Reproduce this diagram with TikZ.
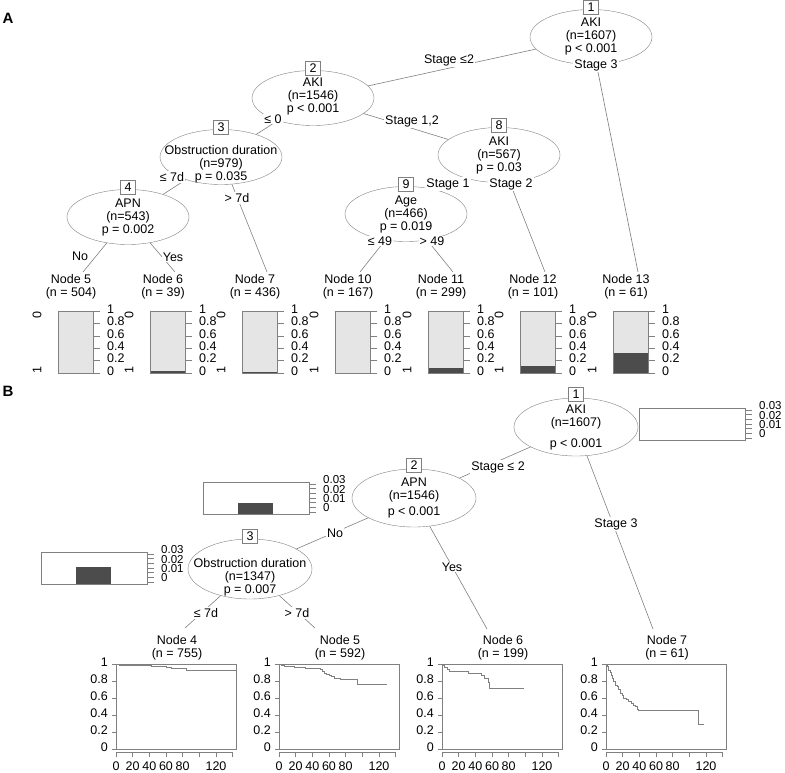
\documentclass[tikz,border=0pt]{standalone}
\usepackage{fontspec}
\setmainfont{Liberation Sans}
\usetikzlibrary{shapes.geometric}
\definecolor{linegray}{gray}{0.5}
\definecolor{barlight}{gray}{0.9}
\definecolor{bardark}{gray}{0.3}

\begin{document}
\begin{tikzpicture}[x=1pt,y=-1pt,font=\fontsize{12.5}{13}\selectfont,
	splitnode/.style={ellipse,draw=linegray,fill=white,minimum width=122pt,minimum height=55pt,inner sep=0pt},
	idbox/.style={draw=linegray,fill=white,minimum width=15pt,minimum height=14pt,inner sep=0pt},
	conn/.style={draw=linegray,line width=0.6pt},
	elab/.style={fill=white,inner sep=1pt},
	tk/.style={draw=linegray,line width=0.6pt},
	num/.style={inner sep=0pt},
	tag/.style={font=\fontsize{15}{15}\selectfont\bfseries}]
		\useasboundingbox (0,0) rectangle (785,772);

		% A: classification tree
		\node[tag] (tagA) at (8,18) {A};
		\node[splitnode] (a1) at (591,37) {};
		\node[splitnode] (a2) at (313,98) {};
		\node[splitnode] (a3) at (221,157) {};
		\node[splitnode] (a4) at (128,217) {};
		\node[splitnode] (a8) at (499,155) {};
		\node[splitnode] (a9) at (406,214) {};
		\node[idbox] (a1id) at ([yshift=2pt]a1.north) {1};
		\node[idbox] (a2id) at ([yshift=2pt]a2.north) {2};
		\node[idbox] (a3id) at ([yshift=2pt]a3.north) {3};
		\node[idbox] (a4id) at ([yshift=2pt]a4.north) {4};
		\node[idbox] (a8id) at ([yshift=2pt]a8.north) {8};
		\node[idbox] (a9id) at ([yshift=2pt]a9.north) {9};
		\node[align=center] (a1txt) at (591,36) {AKI\\(n=1607)\\p < 0.001};
		\node[align=center] (a2txt) at (313,96) {AKI\\(n=1546)\\p < 0.001};
		\node[align=center] (a3txt) at (221,164) {Obstruction duration\\(n=979)\\p = 0.035};
		\node[align=center] (a4txt) at (128,217) {APN\\(n=543)\\p = 0.002};
		\node[align=center] (a8txt) at (499,155) {AKI\\(n=567)\\p = 0.03};
		\node[align=center] (a9txt) at (406,214) {Age\\(n=466)\\p = 0.019};

		\foreach \bx/\dk/\n/\m in {58/0/5/504,150/0.03/6/39,242/0.02/7/436,335/0/10/167,428/0.075/11/299,520/0.12/12/101,613/0.33/13/61}{
			\node[align=center] (leaf\n) at (\bx+13,286.5) {Node \n\\(n = \m)};
			\coordinate (e\n) at (\bx+25,272);
			\fill[barlight] (\bx,311) rectangle (\bx+35,373);
			\fill[bardark] (\bx,{373-62*\dk}) rectangle (\bx+35,373);
			\draw[linegray] (\bx,311) rectangle (\bx+35,373);
			\foreach \val/\lab in {0/0,0.2/0.2,0.4/0.4,0.6/0.6,0.8/0.8,1/1}{
				\draw[tk] (\bx+35,{373-62*\val}) -- ++(7,0);
				\node[num,anchor=west] (ya\n-\lab) at (\bx+49,{371-62*\val}) {\lab};
			}
			\node[num,rotate=90] (cz\n) at (\bx-21,315) {0};
			\node[num,rotate=90] (co\n) at (\bx-21,370) {1};
		}

		\draw[conn] (a1) -- (a2);
		\draw[conn] (a1) -- (e13);
		\draw[conn] (a2) -- (a3);
		\draw[conn] (a2) -- (a8);
		\draw[conn] (a3) -- (a4);
		\draw[conn] (a3) -- (e7);
		\draw[conn] (a4) -- (e5);
		\draw[conn] (a4) -- (e6);
		\draw[conn] (a8) -- (a9);
		\draw[conn] (a8) -- (e12);
		\draw[conn] (a9) -- (e10);
		\draw[conn] (a9) -- (e11);

		\node[elab] (la12) at (449,60) {Stage ≤2};
		\node[elab] (la113) at (596,65) {Stage 3};
		\node[elab] (la23) at (273,119) {≤ 0};
		\node[elab] (la28) at (412,121) {Stage 1,2};
		\node[elab] (la34) at (172,177) {≤ 7d};
		\node[elab] (la37) at (237,198) {> 7d};
		\node[elab] (la45) at (80,256) {No};
		\node[elab] (la46) at (173,257) {Yes};
		\node[elab] (la89) at (448,184) {Stage 1};
		\node[elab] (la812) at (511,184) {Stage 2};
		\node[elab] (la910) at (380,241) {≤ 49};
		\node[elab] (la911) at (432,241) {> 49};

		% B: survival tree
		\node[tag] (tagB) at (8,391) {B};
		\node[splitnode,minimum width=124pt,minimum height=58pt] (b1) at (576,427) {};
		\node[splitnode,minimum width=124pt,minimum height=58pt] (b2) at (414,498) {};
		\node[splitnode,minimum width=124pt,minimum height=60pt] (b3) at (250,569) {};
		\node[idbox] (b1id) at ([yshift=4pt]b1.north) {1};
		\node[idbox] (b2id) at ([yshift=4pt]b2.north) {2};
		\node[idbox] (b3id) at ([yshift=3pt]b3.north) {3};
		\node[align=center] (b1txt) at (576,427) {AKI\\(n=1607)\\[8pt]p < 0.001};
		\node[align=center] (b2txt) at (414,498) {APN\\(n=1546)\\[3pt]p < 0.001};
		\node[align=center] (b3txt) at (250,577) {Obstruction duration\\(n=1347)\\p = 0.007};

		\foreach \bx/\by/\bh/\n in {639/408/0/1,203/482/11/2,41/552/17/3}{
			\fill[bardark] (\bx+35,\by+32-\bh) rectangle (\bx+70,\by+32);
			\draw[linegray] (\bx,\by) rectangle (\bx+106,\by+32);
			\foreach \kk in {0,...,6}
				\draw[tk] (\bx+106,{\by+30-\kk*28/6}) -- ++(7,0);
			\foreach \kk/\lab in {0/0,2/0.01,4/0.02,6/0.03}
				\node[num,anchor=west,font=\fontsize{11.5}{12}\selectfont] (yb\n-\kk) at (\bx+120,{\by+26-\kk*28/6}) {\lab};
		}

		\foreach \px/\n/\m in {116/4/755,279/5/592,442/6/199,606/7/61}{
			\node[align=center] (kleaf\n) at (\px+61,647.5) {Node \n\\(n = \m)};
			\draw[linegray] (\px,664) rectangle (\px+120,749);
			\foreach \val/\lab in {0/0,0.2/0.2,0.4/0.4,0.6/0.6,0.8/0.8,1/1}{
				\draw[tk] (\px,{749-85*\val}) -- ++(-4,0);
				\node[num,anchor=east] (yk\n-\lab) at (\px-8,{747-85*\val}) {\lab};
			}
			\draw[tk] (\px,752) -- ++(116.7,0);
			\foreach \lab in {0,20,...,140}
				\draw[tk] ({\px+0.8333*\lab},752) -- ++(0,5);
			\foreach \lab in {0,20,40,60,80,120}
				\node[num] (xk\n-\lab) at ({\px+0.8333*\lab},766) {\lab};
		}

		\begin{scope}[shift={(116,749)},x=0.8333pt,y=85pt]
			\draw[conn] (0,1) -| (4,0.99) -| (18,0.98) -| (42,0.975) -| (60,0.96) -| (66,0.95) -| (84,0.93) -- (144,0.93);
		\end{scope}
		\begin{scope}[shift={(279,749)},x=0.8333pt,y=85pt]
			\draw[conn] (0,1) -| (3,0.99) -| (6,0.97) -| (18,0.96) -| (32,0.945) -| (50,0.935) -| (52,0.91) -| (54,0.89) -| (57,0.875) -| (60,0.865) -| (63,0.85) -| (66,0.83) -| (74,0.82) -| (94,0.76) -- (130,0.76);
		\end{scope}
		\begin{scope}[shift={(442,749)},x=0.8333pt,y=85pt]
			\draw[conn] (0,1) -| (2,0.98) -| (3,0.96) -| (6,0.94) -| (9,0.92) -| (21,0.91) -| (31,0.89) -| (47,0.865) -| (51,0.83) -| (55,0.78) -| (57,0.72) -- (98,0.72);
		\end{scope}
		\begin{scope}[shift={(606,749)},x=0.8333pt,y=85pt]
			\draw[conn] (0,1) -| (2,0.97) -| (3,0.93) -| (5,0.9) -| (6,0.87) -| (7,0.83) -| (9,0.8) -| (11,0.75) -| (13,0.74) -| (15,0.7) -| (17,0.66) -| (19,0.63) -| (21,0.6) -| (24,0.58) -| (27,0.56) -| (30,0.54) -| (33,0.52) -| (35,0.5) -| (37,0.47) -| (39,0.45) -| (111,0.29) -- (118,0.29);
		\end{scope}

		\coordinate (f4) at (185,628);
		\coordinate (f5) at (315,628);
		\coordinate (f6) at (487,629);
		\coordinate (f7) at (653,629);
		\draw[conn] (b1) -- (b2);
		\draw[conn] (b1) -- (f7);
		\draw[conn] (b2) -- (b3);
		\draw[conn] (b2) -- (f6);
		\draw[conn] (b3) -- (f4);
		\draw[conn] (b3) -- (f5);

		\node[elab] (lb12) at (498,467) {Stage ≤ 2};
		\node[elab] (lb17) at (616,524) {Stage 3};
		\node[elab] (lb23) at (335,533) {No};
		\node[elab] (lb26) at (452,567) {Yes};
		\node[elab] (lb34) at (206,613) {≤ 7d};
		\node[elab] (lb35) at (297,613) {> 7d};
	\end{tikzpicture}
\end{document}
